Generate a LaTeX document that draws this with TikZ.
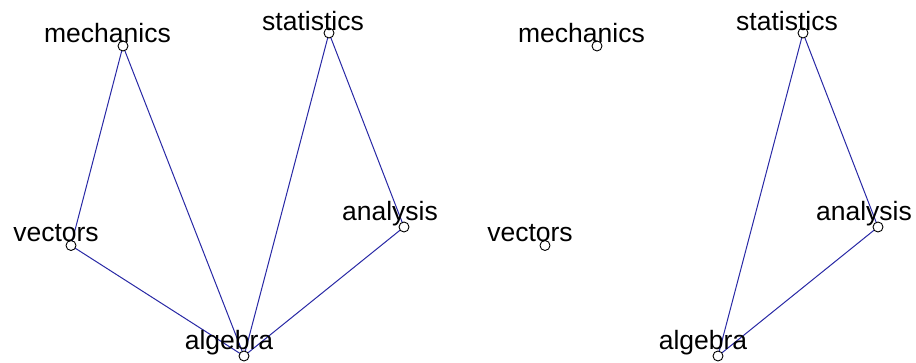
\documentclass[tikz,border=0pt]{standalone}
\usepackage{fontspec}
\setmainfont{Liberation Sans}
\begin{document}
\begin{tikzpicture}[x=1pt,y=-1pt,
  vtx/.style={circle,draw=black,fill=white,line width=0.9pt,minimum size=10pt,inner sep=0pt},
  lbl/.style={anchor=base,inner sep=0pt,font=\fontsize{26.5}{28}\selectfont},
  edge/.style={draw={rgb,255:red,40;green,40;blue,165},line width=1pt}]
\useasboundingbox (0,0) rectangle (916,363);
\foreach \p/\dx in {L/0,R/474}{
  \coordinate (\p-mech) at (123+\dx,46);
  \coordinate (\p-stat) at (329+\dx,33);
  \coordinate (\p-anal) at (404+\dx,227);
  \coordinate (\p-vect) at (71+\dx,245.5);
  \coordinate (\p-alg) at (244+\dx,356);
}
% edges
\draw[edge] (L-mech) -- (L-vect);
\draw[edge] (L-mech) -- (L-alg);
\draw[edge] (L-vect) -- (L-alg);
\draw[edge] (L-stat) -- (L-alg);
\draw[edge] (L-stat) -- (L-anal);
\draw[edge] (L-anal) -- (L-alg);
\draw[edge] (R-stat) -- (R-alg);
\draw[edge] (R-stat) -- (R-anal);
\draw[edge] (R-anal) -- (R-alg);
% vertices and labels
\foreach \p in {L,R}{
  \node[vtx] (\p-mechv) at (\p-mech) {};
  \node[vtx] (\p-statv) at (\p-stat) {};
  \node[vtx] (\p-analv) at (\p-anal) {};
  \node[vtx] (\p-vectv) at (\p-vect) {};
  \node[vtx] (\p-algv) at (\p-alg) {};
  \node[lbl] (\p-mechl) at ([shift={(-15.5,-3)}]\p-mech) {mechanics};
  \node[lbl] (\p-statl) at ([shift={(-16,-2.5)}]\p-stat) {statistics};
  \node[lbl] (\p-anall) at ([shift={(-14,-6.5)}]\p-anal) {analysis};
  \node[lbl] (\p-vectl) at ([shift={(-15,-4)}]\p-vect) {vectors};
  \node[lbl] (\p-algl) at ([shift={(-15,-6)}]\p-alg) {algebra};
}
\end{tikzpicture}
\end{document}
